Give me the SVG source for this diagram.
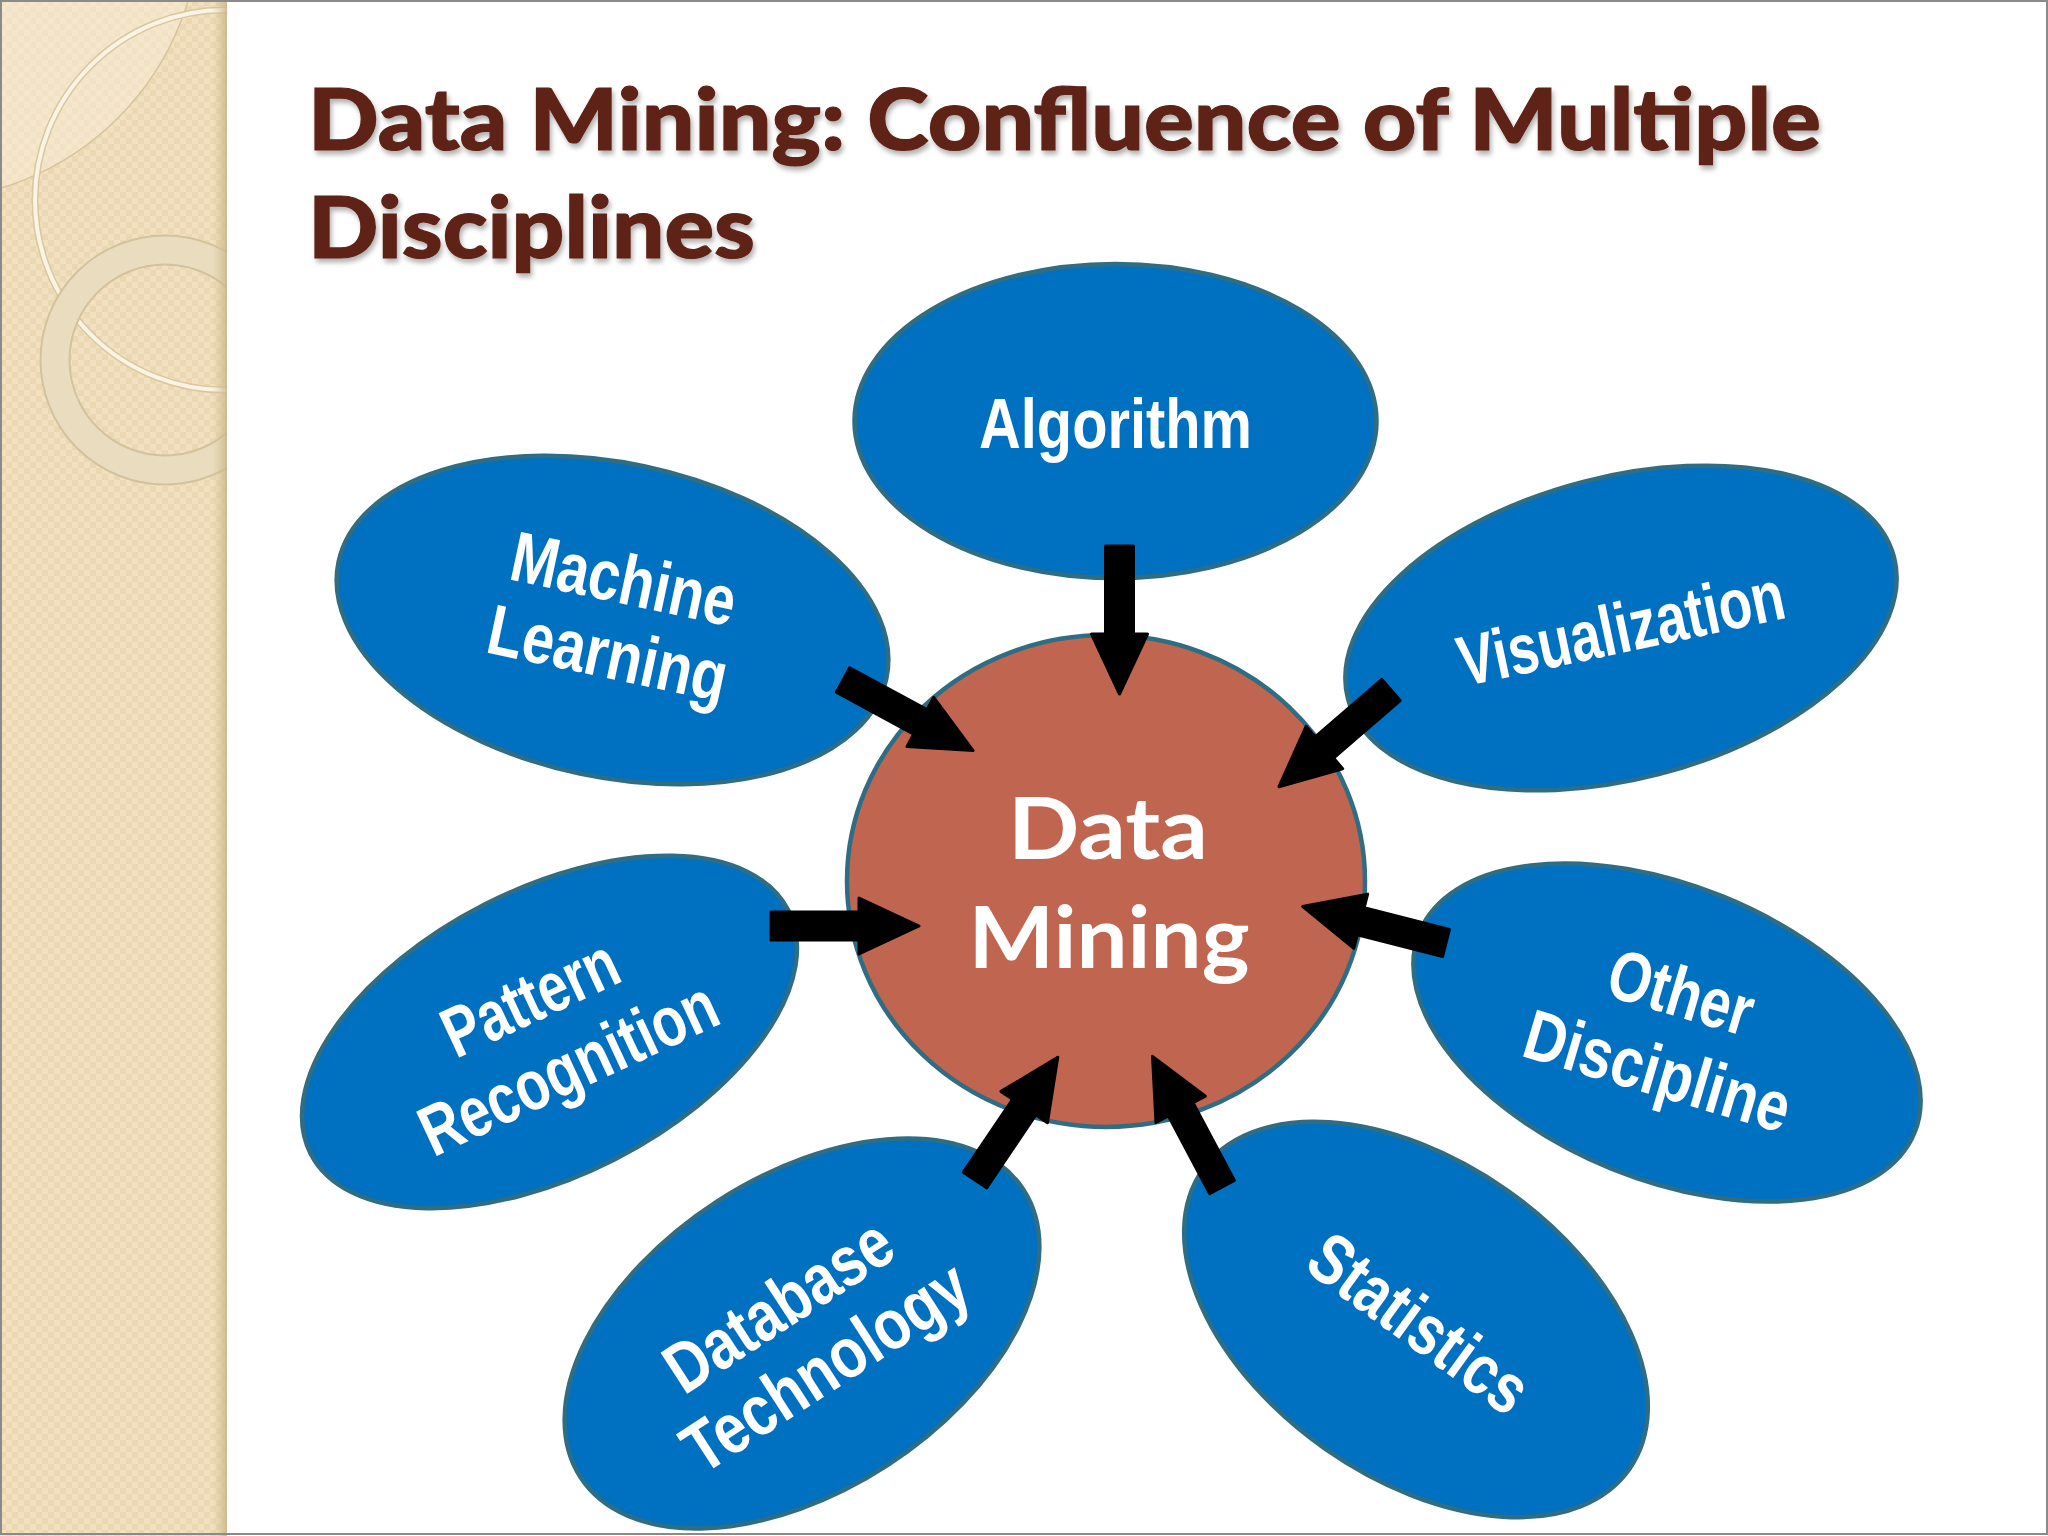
<svg xmlns="http://www.w3.org/2000/svg" xmlns:xlink="http://www.w3.org/1999/xlink" width="2048" height="1536" viewBox="0 0 2048 1536">
  <defs>
    <style>
      .node { fill: #0070C0; stroke: #2E6D84; stroke-width: 4.5; }
      .center { fill: #C0654F; stroke: #2E6D84; stroke-width: 4.5; }
      .lbl { font-family: "Liberation Sans", Arial, sans-serif; font-weight: 700; font-size: 71px; fill: #FFFFFF; text-anchor: middle; }
      .title { font-family: Lato, "Open Sans", sans-serif; font-weight: 900; font-size: 86px; fill: #5E2216; stroke: #5E2216; stroke-width: 1.2; }
      .clbl { font-family: Lato, "Open Sans", sans-serif; font-weight: 700; font-size: 86px; fill: #FFFFFF; text-anchor: middle; }
      .arrow { fill: #000000; stroke: #000000; stroke-width: 3; stroke-linejoin: round; }
    </style>
    <pattern id="chk" width="12" height="12" patternUnits="userSpaceOnUse">
      <rect width="12" height="12" fill="#F2E1C0"/>
      <rect width="6" height="6" fill="#EBD8B2"/>
      <rect x="6" y="6" width="6" height="6" fill="#EBD8B2"/>
    </pattern>
    <linearGradient id="edge" x1="0" y1="0" x2="1" y2="0">
      <stop offset="0" stop-color="#D9C69C" stop-opacity="0"/>
      <stop offset="1" stop-color="#C9B68C" stop-opacity="0.9"/>
    </linearGradient>
    <clipPath id="bandClip">
      <rect x="0" y="0" width="227" height="1536"/>
    </clipPath>
    <filter id="shadow" x="-5%" y="-20%" width="110%" height="140%">
      <feDropShadow dx="2" dy="4" stdDeviation="2.5" flood-color="#000000" flood-opacity="0.3"/>
    </filter>
    <path id="arr" class="arrow" d="M0,-14 H88 V-28 L148,0 L88,28 V14 H0 Z"/>
  </defs>

  <rect x="0" y="0" width="2048" height="1536" fill="#FFFFFF"/>

  <g id="band" clip-path="url(#bandClip)">
    <rect x="0" y="0" width="227" height="1536" fill="url(#chk)"/>
    <circle cx="-80" cy="-80" r="280" fill="#F6EAD3" fill-opacity="0.6" stroke="#D8C49C" stroke-width="1.5"/>
    <circle cx="225" cy="200" r="190" fill="none" stroke="#D9C7A2" stroke-width="7"/>
    <circle cx="225" cy="200" r="190" fill="none" stroke="#FBF4E4" stroke-width="4"/>
    <circle cx="165" cy="360" r="110" fill="none" stroke="#D3C29C" stroke-width="31"/>
    <circle cx="165" cy="360" r="110" fill="none" stroke="#EADDBF" stroke-width="27"/>
    <rect x="212" y="0" width="15" height="1536" fill="url(#edge)"/>
  </g>
  <rect x="1" y="1" width="2046" height="1533" fill="none" stroke="#8A8A8A" stroke-width="2"/>

  <g id="title" filter="url(#shadow)">
    <text class="title" x="308" y="150" textLength="1513" lengthAdjust="spacingAndGlyphs">Data Mining: Confluence of Multiple</text>
    <text class="title" x="308" y="258" textLength="447" lengthAdjust="spacingAndGlyphs">Disciplines</text>
  </g>

  <g id="node-algorithm">
    <ellipse class="node" cx="1115.5" cy="421" rx="261" ry="157"/>
    <text class="lbl" x="1115.5" y="448" textLength="273" lengthAdjust="spacingAndGlyphs">Algorithm</text>
  </g>

  <g id="node-machine-learning">
    <ellipse class="node" cx="0" cy="0" rx="280" ry="157" transform="translate(612.5,620) rotate(12)"/>
    <g transform="translate(611,639) rotate(12)">
      <text class="lbl" x="0" y="-37" textLength="228" lengthAdjust="spacingAndGlyphs">Machine</text>
      <text class="lbl" x="0" y="39" textLength="243" lengthAdjust="spacingAndGlyphs">Learning</text>
    </g>
  </g>

  <g id="node-visualization">
    <ellipse class="node" cx="0" cy="0" rx="282" ry="151" transform="translate(1621,628) rotate(-14.5)"/>
    <g transform="translate(1626,652) rotate(-12)">
      <text class="lbl" x="0" y="0" textLength="332" lengthAdjust="spacingAndGlyphs">Visualization</text>
    </g>
  </g>

  <g id="node-pattern-recognition">
    <ellipse class="node" cx="0" cy="0" rx="268" ry="143" transform="translate(549.5,1032) rotate(-27)"/>
    <g transform="translate(559,1055) rotate(-25)">
      <text class="lbl" x="-2" y="-40" textLength="186" lengthAdjust="spacingAndGlyphs">Pattern</text>
      <text class="lbl" x="3" y="40" textLength="320" lengthAdjust="spacingAndGlyphs">Recognition</text>
    </g>
  </g>

  <g id="node-database-technology">
    <ellipse class="node" cx="0" cy="0" rx="264" ry="157" transform="translate(802,1333.5) rotate(-33)"/>
    <g transform="translate(815,1356) rotate(-33)">
      <text class="lbl" x="-3" y="-38" textLength="257" lengthAdjust="spacingAndGlyphs">Database</text>
      <text class="lbl" x="3" y="39" textLength="326" lengthAdjust="spacingAndGlyphs">Technology</text>
    </g>
  </g>

  <g id="node-statistics">
    <ellipse class="node" cx="0" cy="0" rx="260.5" ry="158" transform="translate(1416,1319.5) rotate(35)"/>
    <g transform="translate(1405,1343) rotate(36)">
      <text class="lbl" x="0" y="0" textLength="254" lengthAdjust="spacingAndGlyphs">Statistics</text>
    </g>
  </g>

  <g id="node-other-discipline">
    <ellipse class="node" cx="0" cy="0" rx="267" ry="147" transform="translate(1667,1032.5) rotate(22)"/>
    <g transform="translate(1662.5,1055) rotate(16.5)">
      <text class="lbl" x="0" y="-41" textLength="148" lengthAdjust="spacingAndGlyphs">Other</text>
      <text class="lbl" x="0" y="41" textLength="274" lengthAdjust="spacingAndGlyphs">Discipline</text>
    </g>
  </g>

  <g id="node-data-mining">
    <ellipse class="center" cx="1106" cy="881" rx="259" ry="246"/>
    <text class="clbl" x="1108" y="859" textLength="200" lengthAdjust="spacingAndGlyphs">Data</text>
    <text class="clbl" x="1109" y="968" textLength="281" lengthAdjust="spacingAndGlyphs">Mining</text>
  </g>

  <g id="connectors">
    <use xlink:href="#arr" transform="translate(1119.5,546) rotate(90)"/>
    <use xlink:href="#arr" transform="translate(843,680) rotate(28.5)"/>
    <use xlink:href="#arr" transform="translate(1391,690) rotate(139.2)"/>
    <use xlink:href="#arr" transform="translate(771,926) rotate(0)"/>
    <use xlink:href="#arr" transform="translate(1446,943) rotate(194.3)"/>
    <use xlink:href="#arr" transform="translate(975,1180) rotate(-56)"/>
    <use xlink:href="#arr" transform="translate(1222,1187) rotate(-118)"/>
  </g>
</svg>
